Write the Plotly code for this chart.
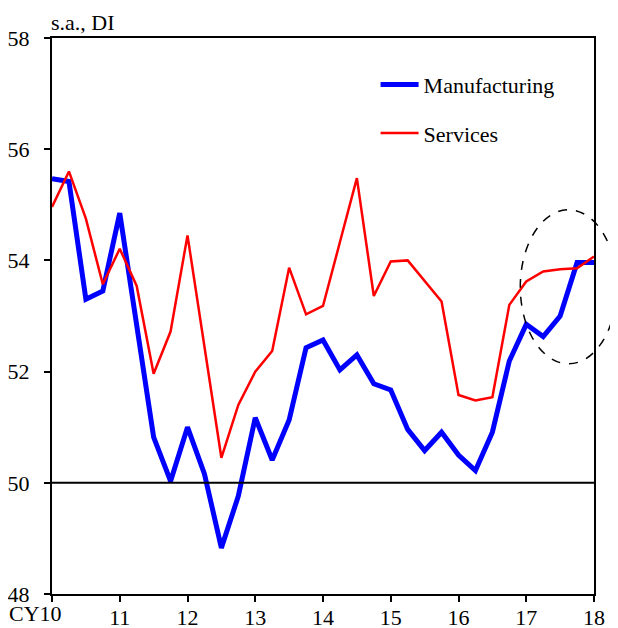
import plotly.graph_objects as go

# Quarterly observations, 2010Q1 .. 2018Q1 (positioned at year + quarter/4)
quarters = [2010 + i * 0.25 for i in range(33)]

manufacturing = [55.47, 55.42, 53.30, 53.45, 54.85, 52.82, 50.82, 50.03,
                 51.00, 50.16, 48.83, 49.76, 51.17, 50.41, 51.13, 52.43,
                 52.57, 52.03, 52.30, 51.78, 51.67, 50.96, 50.58, 50.91,
                 50.50, 50.22, 50.91, 52.19, 52.85, 52.63, 53.00, 53.96,
                 53.96]

services = [54.96, 55.60, 54.75, 53.57, 54.21, 53.54, 51.96, 52.72,
            54.45, 52.45, 50.45, 51.40, 52.00, 52.37, 53.87, 53.03,
            53.18, 54.33, 55.48, 53.36, 53.98, 54.00, 53.63, 53.26,
            51.58, 51.48, 51.54, 53.20, 53.62, 53.80, 53.84, 53.86,
            54.07]

x_tickvals = [2010, 2011, 2012, 2013, 2014, 2015, 2016, 2017, 2018]
x_ticktext = ["", "11", "12", "13", "14", "15", "16", "17", "18"]
y_tickvals = [48, 50, 52, 54, 56, 58]

FONT = "Liberation Serif"

fig = go.Figure()
fig.add_trace(go.Scatter(x=quarters, y=manufacturing, mode="lines",
                         name="Manufacturing", legendgroup="m",
                         line=dict(color="#0000ff", width=5)))
fig.add_trace(go.Scatter(x=quarters, y=services, mode="lines",
                         name="Services", legendgroup="s",
                         line=dict(color="#ff0000", width=2.5)))

# page body has an 8px margin, so the figure is drawn 8px smaller
fig.update_layout(
    template="none",
    width=610, height=620,
    margin=dict(l=44, r=24, t=30, b=34, pad=0),
    paper_bgcolor="white", plot_bgcolor="white",
    font=dict(family=FONT, size=22, color="black"),
    showlegend=True,
    legend=dict(x=0.597, y=0.954, xanchor="left", yanchor="top",
                bgcolor="rgba(0,0,0,0)", tracegroupgap=17, itemwidth=38,
                font=dict(family=FONT, size=22, color="black")),
    xaxis=dict(range=[2010, 2018], tickvals=x_tickvals, ticktext=x_ticktext,
               automargin=False, ticklabelstandoff=-3,
               showgrid=False, zeroline=False, showline=True, linewidth=2,
               linecolor="black", mirror=True, ticks="outside", ticklen=6,
               tickwidth=2, tickcolor="black"),
    yaxis=dict(range=[48, 58], tickvals=y_tickvals, automargin=False,
               showgrid=False, zeroline=False, showline=True, linewidth=2,
               linecolor="black", mirror=True, ticks="outside", ticklen=6,
               tickwidth=2, tickcolor="black", ticklabelstandoff=10),
)

# reference line at 50
fig.add_shape(type="line", xref="paper", x0=0, x1=1, yref="y", y0=50, y1=50,
              line=dict(color="black", width=2))

# dashed ellipse highlighting the latest observations
fig.add_shape(type="circle", xref="paper", yref="paper",
              x0=0.864, x1=1.042, y0=0.414, y1=0.691,
              line=dict(color="black", width=1.5, dash="dash"))

fig.add_annotation(text="s.a., DI", xref="paper", yref="paper", x=0, y=1,
                   xanchor="left", yanchor="bottom", xshift=-3, yshift=1,
                   showarrow=False, font=dict(family=FONT, size=22, color="black"))
fig.add_annotation(text="CY10", xref="x", yref="paper", x=2010, y=0,
                   xanchor="right", yanchor="top", xshift=12, yshift=-5,
                   showarrow=False, font=dict(family=FONT, size=22, color="black"))

fig.write_html("out.html")
